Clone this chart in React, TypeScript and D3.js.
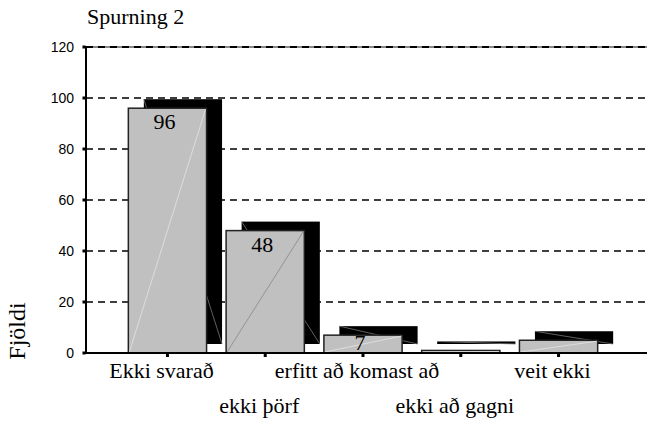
import React from "react";
import * as d3 from "d3";

const categories = ["Ekki svarað", "ekki þörf", "erfitt að komast að", "ekki að gagni", "veit ekki"];
const values = [96, 48, 7, 1, 5];
const valueLabels = ["96", "48", "7", "", ""];
const yTicks = [0, 20, 40, 60, 80, 100, 120];
const title = "Spurning 2";
const yTitle = "Fjöldi";

const W = 647;
const H = 424;
const SERIF = "Liberation Serif, Times New Roman, serif";
const SANS = "Liberation Sans, Arial, sans-serif";
const serif = { fontFamily: SERIF };
const sans = { fontFamily: SANS };

export default function App() {
  const x = d3.scaleBand<string>().domain(categories).range([86, 640]).paddingInner(0.2).paddingOuter(0.433);
  const y = d3.scaleLinear().domain([0, 120]).range([353, 47]);
  const bw = x.bandwidth();
  const dx = 15.5;
  const dy = -9;
  const x0 = 86;
  const xEnd = 647;

  return (
    <svg width={W} height={H} style={{ position: "absolute", left: 0, top: 0, background: "#fff" }}>
      <rect x={0} y={0} width={W} height={H} fill="#fff" />
      {/* title */}
      <text x={87} y={24} style={serif} fontSize={22} fill="#000">{title}</text>

      {/* gridlines */}
      {yTicks.filter((t) => t > 0 && t < 120).map((t) => (
        <line key={"g" + t} x1={x0} x2={645} y1={y(t)} y2={y(t)} stroke="#000" strokeWidth={1.5} strokeDasharray="7 5" />
      ))}
      <line x1={x0} x2={xEnd} y1={y(120)} y2={y(120)} stroke="#888" strokeWidth={2} />
      <line x1={x0} x2={xEnd} y1={y(120)} y2={y(120)} stroke="#000" strokeWidth={2} strokeDasharray="7 5" />

      {/* shadows */}
      {categories.map((c, i) => {
        const bx = (x(c) as number) + dx;
        const top = y(values[i]) + dy;
        const bot = y(0) + dy;
        return (
          <g key={"s" + i}>
            <rect x={bx} y={top} width={bw} height={Math.max(bot - top, 1)} fill="#000" />
            <line x1={bx} y1={top} x2={bx + bw} y2={bot} stroke="#777" strokeWidth={0.8} />
          </g>
        );
      })}

      {/* front bars */}
      {categories.map((c, i) => {
        const bx = x(c) as number;
        const top = y(values[i]);
        const bot = y(0);
        return (
          <g key={"b" + i}>
            <rect x={bx} y={top} width={bw} height={bot - top} fill="#c0c0c0" stroke="#222" strokeWidth={1.5} />
            <line x1={bx + 1} y1={bot - 1} x2={bx + bw - 1} y2={top + 1} stroke={i === 1 ? "#888" : "#e4e4e4"} strokeWidth={0.8} />
          </g>
        );
      })}

      {/* value labels */}
      {categories.map((c, i) => (
        valueLabels[i] ? (
          <text key={"v" + i} x={(x(c) as number) + bw / 2 - 3} y={Math.min(y(values[i]) + 21, 350)}
            textAnchor="middle" style={serif} fontSize={22} fill="#000">{valueLabels[i]}</text>
        ) : null
      ))}

      {/* axes */}
      <line x1={x0} x2={x0} y1={y(120) - 1} y2={y(0) + 1} stroke="#000" strokeWidth={2} />
      <line x1={x0} x2={xEnd} y1={y(0)} y2={y(0)} stroke="#000" strokeWidth={2} />
      {yTicks.map((t) => (
        <g key={"t" + t}>
          <rect x={x0 - 3.5} y={y(t) - 1.5} width={3} height={3} fill="#000" />
          <text x={74} y={y(t) + 5} textAnchor="end" style={sans} fontSize={14} fill="#000">{t}</text>
        </g>
      ))}
      {categories.map((c, i) => (
        <rect key={"xt" + i} x={(x(c) as number) + bw / 2 - 1.5} y={y(0) + 1} width={3} height={3} fill="#000" />
      ))}

      {/* x labels */}
      {categories.map((c, i) => (
        <text key={"xl" + i} x={(x(c) as number) + bw / 2 - 6} y={i % 2 === 0 ? 378 : 413}
          textAnchor="middle" style={serif} fontSize={22} fill="#000">{c}</text>
      ))}

      {/* y title */}
      <text transform="translate(25,331) rotate(-90)" textAnchor="middle" style={serif} fontSize={24} fill="#000">{yTitle}</text>
    </svg>
  );
}
